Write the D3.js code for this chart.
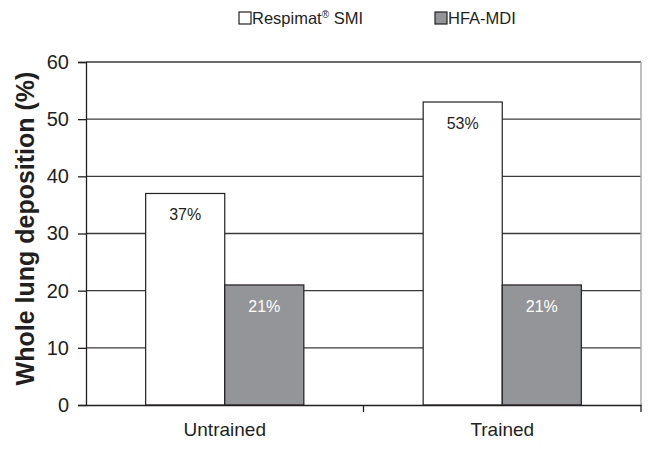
<!DOCTYPE html>
<html lang="en">
<head>
    <meta charset="UTF-8">
    <title>Whole lung deposition</title>
    <script src="https://d3js.org/d3.v7.min.js"></script>
    <style>
        body { margin: 0; background: #fff; }
        svg { font-family: "Liberation Sans", Arial, sans-serif; }
    </style>
</head>
<body>
    <div id="chart"></div>
    <script>
        const groups = ["Untrained", "Trained"];
        const seriesNames = ["Respimat SMI", "HFA-MDI"];
        const respimat = [37, 53];
        const hfa = [21, 21];
        const yTicks = [0, 10, 20, 30, 40, 50, 60];

        const colors = ["#ffffff", "#939598"];
        const labelColors = ["#231f20", "#ffffff"];

        const width = 654, height = 449;
        const margin = { top: 62, right: 13, bottom: 44, left: 86 };

        const svg = d3.select("#chart")
            .append("svg")
            .attr("width", width)
            .attr("height", height);

        const x = d3.scaleBand()
            .domain(groups)
            .range([margin.left, width - margin.right])
            .paddingInner(0)
            .paddingOuter(0);

        const xs = d3.scaleBand()
            .domain(seriesNames)
            .range([0, x.bandwidth() * 0.57])
            .padding(0);

        const y = d3.scaleLinear()
            .domain([0, 60])
            .range([height - margin.bottom, margin.top]);

        // gridlines
        svg.append("g")
            .selectAll("line")
            .data(yTicks.slice(1))
            .join("line")
            .attr("x1", margin.left)
            .attr("x2", width - margin.right)
            .attr("y1", d => y(d))
            .attr("y2", d => y(d))
            .attr("stroke", "#3a3a3a")
            .attr("stroke-width", 1.3);

        // right border
        svg.append("line")
            .attr("x1", width - margin.right)
            .attr("x2", width - margin.right)
            .attr("y1", y(60))
            .attr("y2", y(0))
            .attr("stroke", "#aaaaaa")
            .attr("stroke-width", 1.5);

        const rows = groups.map((g, i) => ({ group: g, values: [respimat[i], hfa[i]] }));

        const offset = (x.bandwidth() - xs.range()[1]) / 2;

        const bars = svg.append("g")
            .selectAll("g")
            .data(rows)
            .join("g")
            .attr("transform", d => `translate(${x(d.group) + offset},0)`);

        bars.selectAll("rect")
            .data(d => d.values.map((v, j) => ({ name: seriesNames[j], value: v, j })))
            .join("rect")
            .attr("x", d => xs(d.name))
            .attr("width", xs.bandwidth())
            .attr("y", d => y(d.value))
            .attr("height", d => y(0) - y(d.value))
            .attr("fill", d => colors[d.j])
            .attr("stroke", "#231f20")
            .attr("stroke-width", 1.2);

        bars.selectAll("text")
            .data(d => d.values.map((v, j) => ({ name: seriesNames[j], value: v, j })))
            .join("text")
            .attr("x", d => xs(d.name) + xs.bandwidth() / 2)
            .attr("y", d => y(d.value) + 27)
            .attr("text-anchor", "middle")
            .attr("font-size", 16)
            .attr("fill", d => labelColors[d.j])
            .text(d => d.value + "%");

        // y axis
        const yAxis = svg.append("g")
            .attr("transform", `translate(${margin.left},0)`)
            .call(d3.axisLeft(y).tickValues(yTicks).tickSize(8).tickPadding(9));
        yAxis.select(".domain").attr("stroke", "#231f20").attr("stroke-width", 1.3);
        yAxis.selectAll(".tick line").attr("stroke", "#231f20").attr("stroke-width", 1.3);
        yAxis.selectAll(".tick text")
            .attr("font-size", 20)
            .attr("font-family", "Liberation Sans, Arial, sans-serif")
            .attr("fill", "#231f20");

        // x axis
        const xAxis = svg.append("g")
            .attr("transform", `translate(0,${y(0)})`)
            .call(d3.axisBottom(x).tickSize(0).tickPadding(18));
        xAxis.select(".domain").attr("stroke", "#231f20").attr("stroke-width", 1.3);
        xAxis.selectAll(".tick text")
            .attr("font-size", 19)
            .attr("font-family", "Liberation Sans, Arial, sans-serif")
            .attr("fill", "#231f20");

        // separator ticks between categories
        svg.append("g")
            .selectAll("line")
            .data(groups.slice(1).concat(["end"]))
            .join("line")
            .attr("x1", d => d === "end" ? width - margin.right : x(d))
            .attr("x2", d => d === "end" ? width - margin.right : x(d))
            .attr("y1", y(0))
            .attr("y2", y(0) + 7)
            .attr("stroke", "#231f20")
            .attr("stroke-width", 1.3);

        // y axis title
        svg.append("text")
            .attr("transform", `translate(34,${(y(0) + y(60)) / 2 - 5}) rotate(-90)`)
            .attr("text-anchor", "middle")
            .attr("font-size", 25)
            .attr("font-weight", "bold")
            .attr("fill", "#231f20")
            .text("Whole lung deposition (%)");

        // legend
        const legendX = [239, 435];
        const legend = svg.append("g")
            .selectAll("g")
            .data(seriesNames)
            .join("g")
            .attr("transform", (d, i) => `translate(${legendX[i]},12)`);

        legend.append("rect")
            .attr("width", 12)
            .attr("height", 12)
            .attr("fill", (d, i) => colors[i])
            .attr("stroke", "#231f20")
            .attr("stroke-width", 1.2);

        const legendText = legend.append("text")
            .attr("x", 13)
            .attr("y", 12)
            .attr("font-size", 16.5)
            .attr("fill", "#231f20");

        legendText.each(function (d) {
            const t = d3.select(this);
            if (d === "Respimat SMI") {
                t.append("tspan").text("Respimat");
                t.append("tspan").attr("font-size", 10).attr("dy", -6).text("®");
                t.append("tspan").attr("dy", 6).text(" SMI");
            } else {
                t.text(d);
            }
        });
    </script>
</body>
</html>
